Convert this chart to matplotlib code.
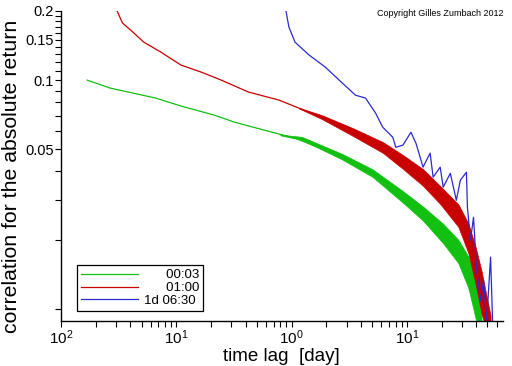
import numpy as np
import matplotlib
matplotlib.use('Agg')
import matplotlib.pyplot as plt
from matplotlib.ticker import FixedLocator, NullFormatter

plt.rcParams['font.family'] = ['Liberation Sans', 'DejaVu Sans']
plt.rcParams['mathtext.default'] = 'regular'

# --- data ---
labels = ['\u2007\u2007\u200700:03', '\u2007\u2007\u200701:00', '1d 06:30']
colors = ['#12c012', '#c80000', '#2a2ad0']

# 00:03 (green)
g_x = [0.0169, 0.0268, 0.0665, 0.110, 0.214, 0.320, 0.585, 1.071, 1.96, 3.18,
       4.76, 7.12, 10.6, 15.9, 23.8, 31.0, 35.7, 40.2, 41.9]
g_y = [0.0999, 0.0922, 0.0834, 0.0770, 0.0703, 0.0655, 0.0604, 0.0558, 0.0494,
       0.0447, 0.0396, 0.0341, 0.0290, 0.0245, 0.0200, 0.0164, 0.0134, 0.0099, 0.0088]
# noisy band of the green curve
gb_x = [0.8, 1.233, 2.76, 5.05, 9.25, 13.8, 20.7, 28.0, 34.2, 37.9, 41.9, 44.5]
gb_hi = [0.0578, 0.0565, 0.0476, 0.0408, 0.0328, 0.0281, 0.0236, 0.0201, 0.0170, 0.0150, 0.0126, 0.0099]
gb_lo = [0.0574, 0.0548, 0.0450, 0.0378, 0.0292, 0.0244, 0.0194, 0.0159, 0.0124, 0.0100, 0.0080, 0.0080]

# 01:00 (red)
r_x = [0.0291, 0.0342, 0.0402, 0.0522, 0.0735, 0.110, 0.1645, 0.246, 0.424, 0.776,
       1.161, 1.845, 2.76, 4.13, 6.18, 9.25, 13.8, 19.5, 26.9, 32.9, 37.9, 41.9, 44.5, 49.2]
r_y = [0.2124, 0.1772, 0.1652, 0.1464, 0.1324, 0.1162, 0.1083, 0.0999, 0.0886, 0.0818,
       0.0754, 0.0689, 0.0623, 0.0563, 0.0509, 0.0438, 0.0377, 0.0321, 0.0262, 0.0215,
       0.0164, 0.0130, 0.0104, 0.0088]
rb_x = [1.161, 1.845, 3.376, 6.18, 9.25, 13.8, 19.5, 28.0, 34.2, 39.4, 44.5, 49.2, 53.3]
rb_hi = [0.0756, 0.0702, 0.0618, 0.0537, 0.0471, 0.0409, 0.0345, 0.0287, 0.0237, 0.0188, 0.0147, 0.0114, 0.0094]
rb_lo = [0.0752, 0.0675, 0.0572, 0.0482, 0.0410, 0.0346, 0.0288, 0.0229, 0.0176, 0.0130, 0.0096, 0.0080, 0.0080]

# 1d 06:30 (blue)
b_x = [0.876, 0.949, 1.071, 1.42, 1.96, 2.76, 3.586, 4.387, 5.366, 6.178, 7.556, 8.027,
       9.25, 10.86, 12.01, 13.83, 15.93, 16.92, 19.48, 20.69, 23.84, 26.89, 29.15, 32.89,
       33.56, 35.66, 37.9, 40.22, 43.6, 46.3, 49.2, 53.3, 55.5]
b_y = [0.2124, 0.1703, 0.1464, 0.1285, 0.1139, 0.0970, 0.0859, 0.0834, 0.0717, 0.0623,
       0.0563, 0.0509, 0.0520, 0.0592, 0.0530, 0.0417, 0.0480, 0.0377, 0.0417, 0.0341,
       0.0392, 0.0299, 0.0366, 0.0396, 0.0279, 0.0200, 0.0252, 0.0152, 0.0109, 0.0134,
       0.0088, 0.0169, 0.0088]

y_major = [0.05, 0.1, 0.15, 0.2]
y_major_labels = ['0.05', '0.1', '0.15', '0.2']
y_minor = [0.01, 0.02, 0.03, 0.04, 0.06, 0.07, 0.08, 0.09,
           0.11, 0.12, 0.13, 0.14, 0.16, 0.17, 0.18, 0.19]
x_major = [0.01, 0.1, 1, 10]
x_major_labels = ['$10^{2}$', '$10^{1}$', '$10^{0}$', '$10^{1}$']

fig = plt.figure(figsize=(5.12, 3.66), dpi=100)
ax = fig.add_axes([0.119, 0.123, 0.863, 0.847])

ax.plot(g_x, g_y, color=colors[0], lw=0.9, label=labels[0])
ax.fill_between(gb_x, gb_lo, gb_hi, color=colors[0], lw=0.5)
ax.plot(r_x, r_y, color=colors[1], lw=0.9, label=labels[1])
ax.fill_between(rb_x, rb_lo, rb_hi, color=colors[1], lw=0.5)
ax.plot(b_x, b_y, color=colors[2], lw=0.9, label=labels[2])

ax.set_xscale('log')
ax.set_yscale('log')
ax.set_xlim(0.01, 68)
ax.set_ylim(0.0089, 0.2)

ax.xaxis.set_major_locator(FixedLocator(x_major))
ax.set_xticklabels(x_major_labels, fontsize=11)
ax.xaxis.set_minor_locator(FixedLocator(
    [m * d for d in [0.01, 0.1, 1, 10] for m in range(2, 10)]))
ax.xaxis.set_minor_formatter(NullFormatter())

ax.yaxis.set_major_locator(FixedLocator(y_major))
ax.set_yticklabels(y_major_labels, fontsize=10.5)
ax.yaxis.set_minor_locator(FixedLocator(y_minor))
ax.yaxis.set_minor_formatter(NullFormatter())

ax.tick_params(which='both', direction='out', length=4, width=0.8, pad=1, colors='black')

for s in ['top', 'right']:
    ax.spines[s].set_visible(False)
for s in ['left', 'bottom']:
    ax.spines[s].set_linewidth(1)

ax.set_xlabel('time lag  [day]', fontsize=13.5, labelpad=1)
ax.set_ylabel('correlation for the absolute return', fontsize=15.3)
ax.yaxis.set_label_coords(-0.09, 0.465)

ax.text(0.983, 0.975, 'Copyright Gilles Zumbach 2012', transform=fig.transFigure,
        fontsize=6.5, ha='right', va='top')

leg = ax.legend(loc='lower left', bbox_to_anchor=(0.036, 0.032), borderaxespad=0,
                fancybox=False, edgecolor='black', framealpha=1, fontsize=9.5,
                handlelength=4.3, handletextpad=0.5, labelspacing=0.05,
                borderpad=0.3)
leg.get_frame().set_linewidth(0.9)

fig.savefig('out.png', dpi=100)
